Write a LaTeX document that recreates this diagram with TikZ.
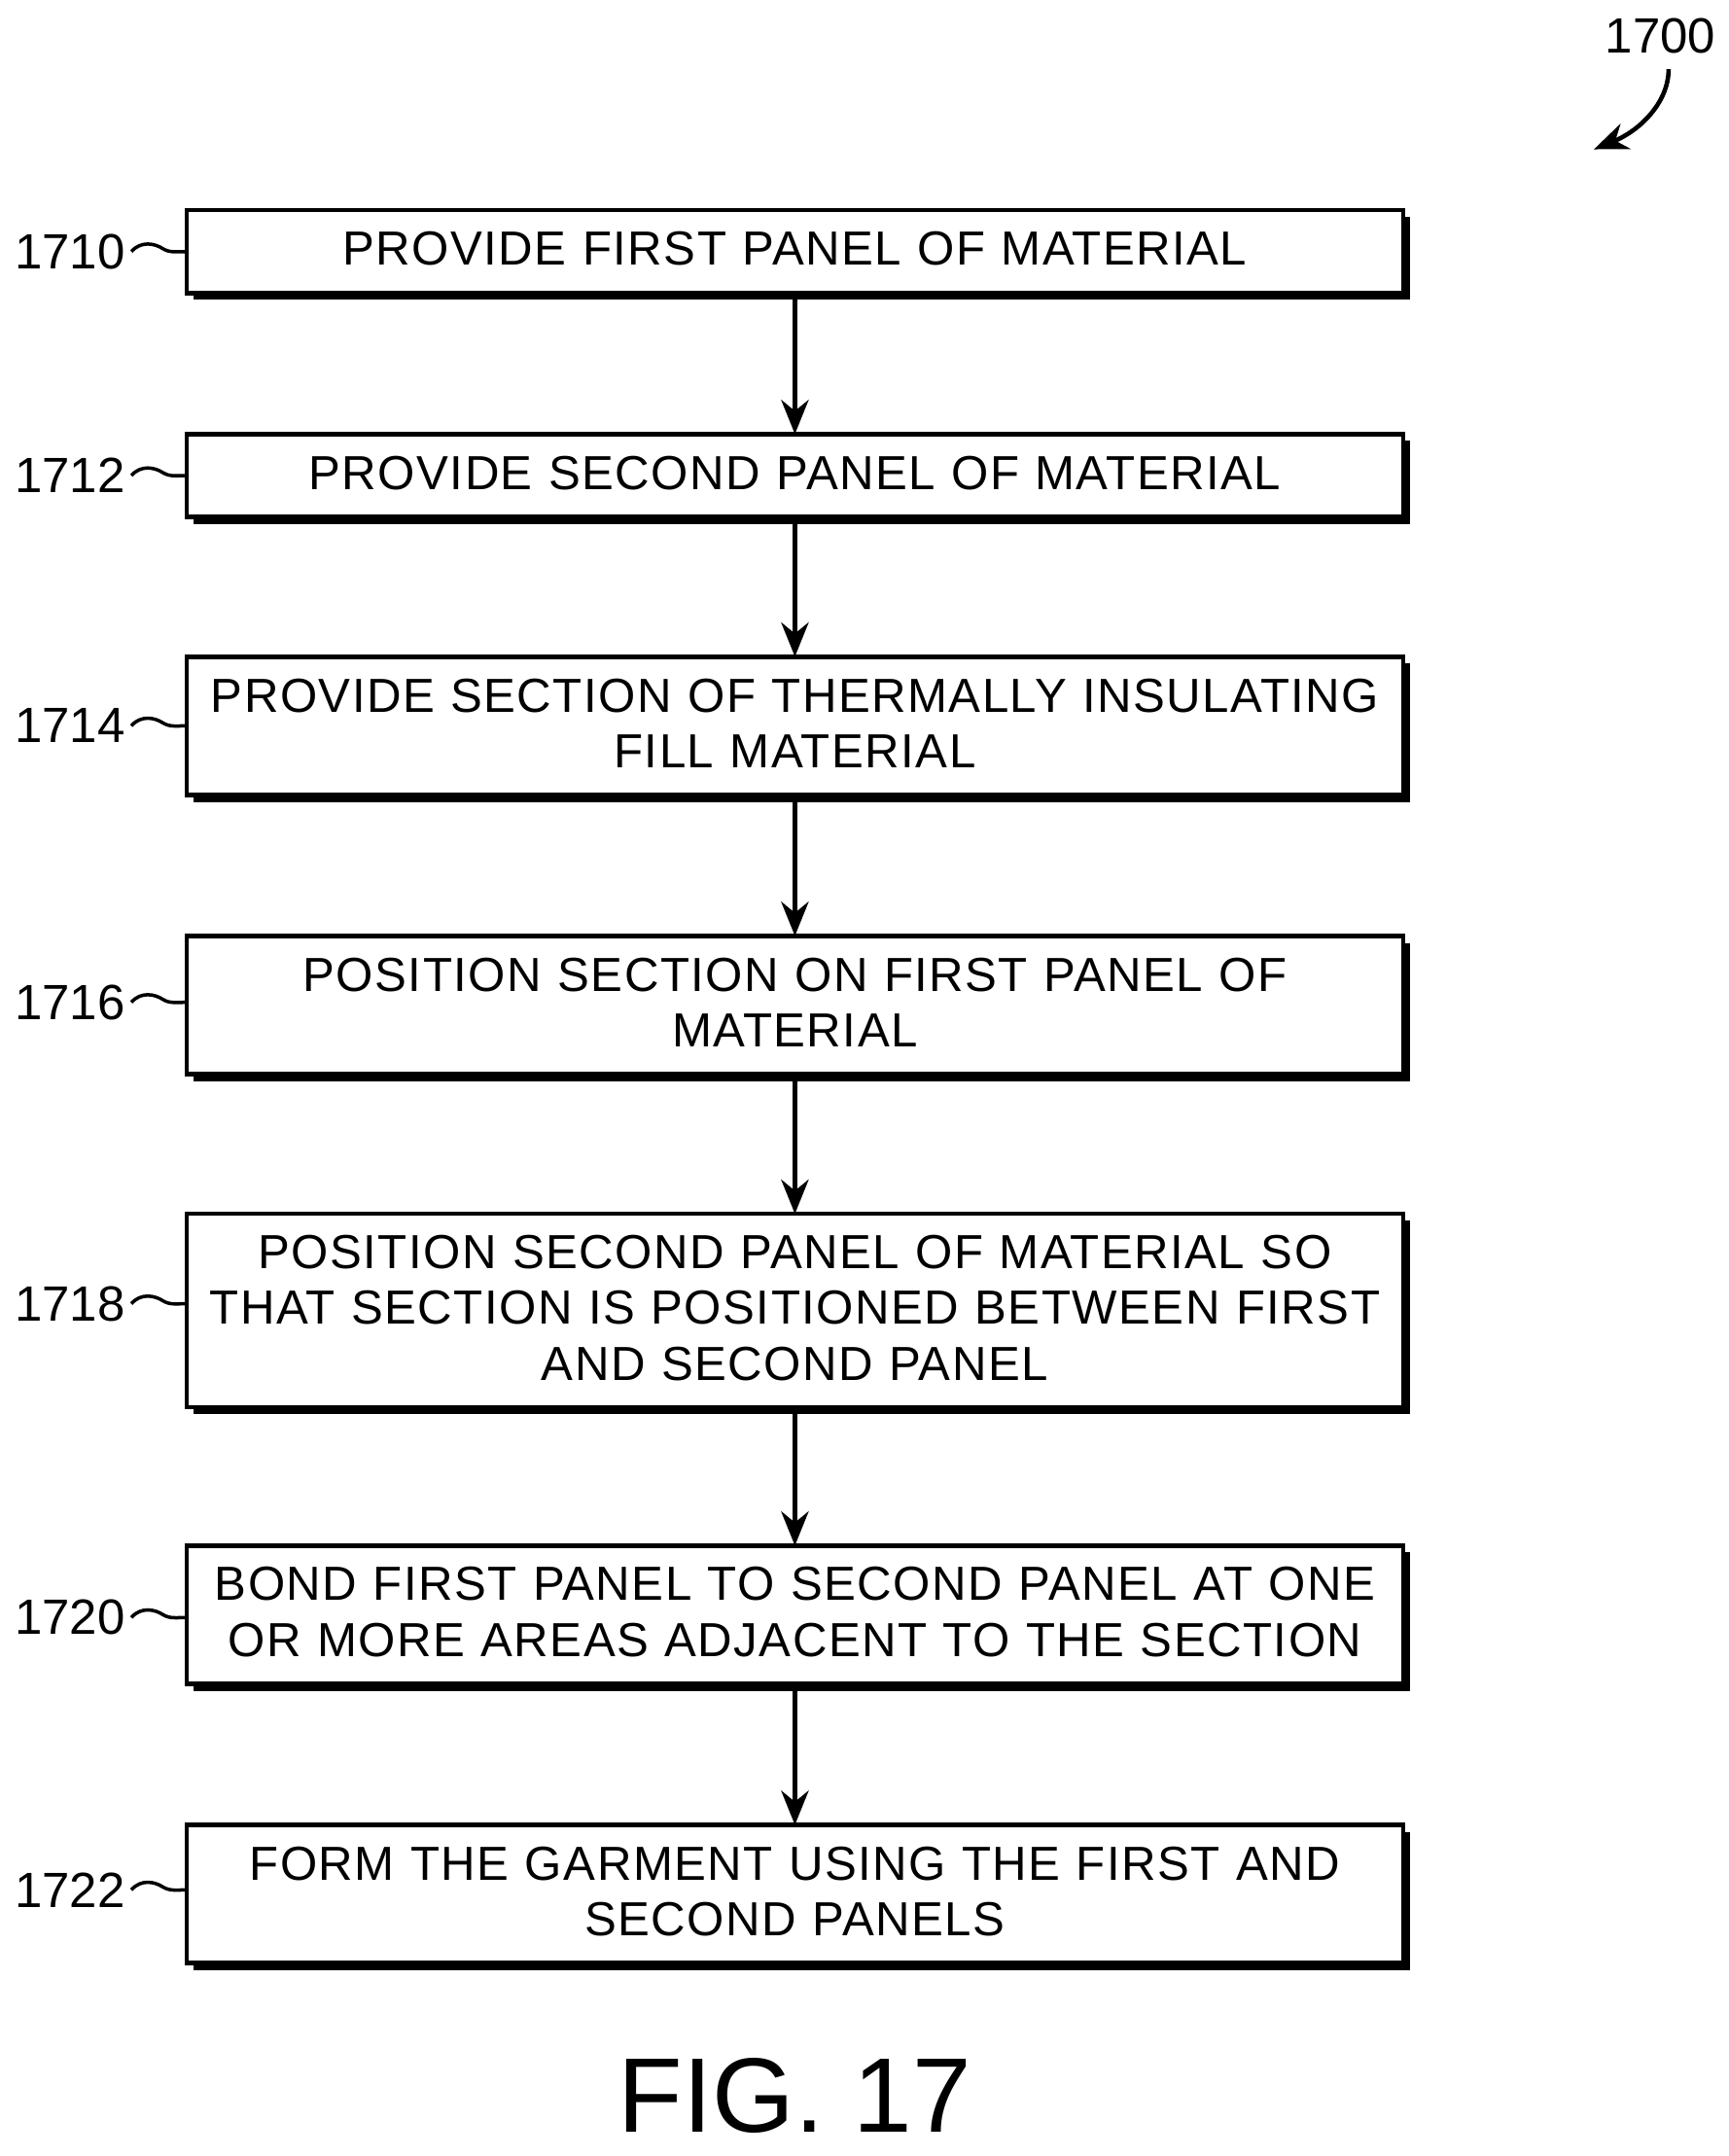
\documentclass[tikz,border=0pt]{standalone}
\usepackage{fontspec}
\setmainfont{Liberation Sans}[LetterSpace=3]
\newfontfamily\numfont{Liberation Sans}
\usetikzlibrary{arrows.meta}
\begin{document}
\begin{tikzpicture}[x=0.014216cm,y=-0.014216cm,
  lab/.style={font=\numfont\fontsize{14.5}{18}\selectfont,anchor=east,inner sep=0pt},
  arr/.style={-{Stealth[length=10pt,width=8pt]},line width=1.5pt},
  sq/.style={line width=1pt}]
\useasboundingbox (0,0) rectangle (1250,1559.5);
\def\mk#1#2#3#4#5{%
  \fill (#3+5,#4+5) rectangle (1020,#5+5);
  \draw[line width=1.3pt,fill=white] (135,#4) rectangle (1015,#5);
  \node[align=center,font=\fontsize{14}{16.3}\selectfont,text width=350pt,inner sep=0pt] (#1) at (575,{(#4+#5)/2-2}) {#2};
  \coordinate (#1t) at (575,#4); \coordinate (#1b) at (575,#5);
}
\mk{a}{PROVIDE FIRST PANEL OF MATERIAL}{135}{152}{212}
\mk{b}{PROVIDE SECOND PANEL OF MATERIAL}{135}{314}{374}
\mk{c}{PROVIDE SECTION OF THERMALLY INSULATING\\FILL MATERIAL}{135}{475}{575}
\mk{d}{POSITION SECTION ON FIRST PANEL OF\\MATERIAL}{135}{677}{777}
\mk{e}{POSITION SECOND PANEL OF MATERIAL SO\\THAT SECTION IS POSITIONED BETWEEN FIRST\\AND SECOND PANEL}{135}{878}{1018}
\mk{f}{BOND FIRST PANEL TO SECOND PANEL AT ONE\\OR MORE AREAS ADJACENT TO THE SECTION}{135}{1118}{1218}
\mk{g}{FORM THE GARMENT USING THE FIRST AND\\SECOND PANELS}{135}{1320}{1420}
\draw[arr] (ab) -- (bt);
\draw[arr] (bb) -- (ct);
\draw[arr] (cb) -- (dt);
\draw[arr] (db) -- (et);
\draw[arr] (eb) -- (ft);
\draw[arr] (fb) -- (gt);
\foreach \n/\t/\y in {a/1710/182,b/1712/344,c/1714/525,d/1716/725,e/1718/943,f/1720/1170,g/1722/1367}{
  \node[lab] (l\n) at (91,\y) {\t};
  \draw[sq] (95,\y) .. controls (102,\y-8) and (112,\y-6) .. (118,\y-2) .. controls (123,\y+1) and (128,\y) .. (135,\y);
}
\node[font=\numfont\fontsize{14.5}{18}\selectfont,inner sep=0pt] (n1700) at (1201,26) {1700};
\draw[line width=1.3pt,-{Stealth[length=10pt,width=8pt]}] (1207,50) .. controls (1207,75) and (1185,95) .. (1153,108);
\node[font=\numfont\fontsize{31}{36}\selectfont,inner sep=0pt] (fig) at (575,1516) {FIG. 17};
\end{tikzpicture}
\end{document}
